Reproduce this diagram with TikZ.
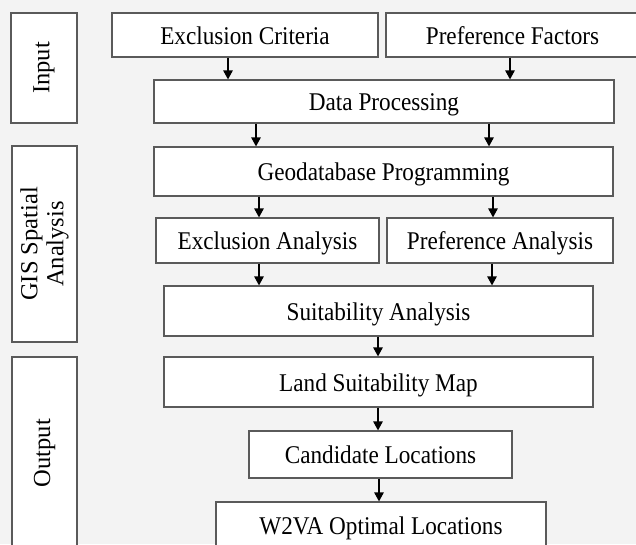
\documentclass[tikz,border=0pt]{standalone}
\usepackage{fontspec}
\setmainfont{Liberation Serif}
\newfontfamily\boxfont{Liberation Serif}[FakeStretch=0.91]
\usetikzlibrary{arrows.meta}
\definecolor{bgcol}{HTML}{F3F3F3}
\definecolor{edgecol}{HTML}{5A5A5A}
\tikzset{
  stage/.style={draw=edgecol, line width=1.2pt, fill=white, inner sep=0pt,
    text height=18pt, text depth=0pt,
    font=\boxfont\fontsize{25.5}{27}\selectfont, text=black},
  phase/.style={draw=edgecol, line width=1.2pt, fill=white, inner sep=0pt,
    rotate=90, align=center, font=\fontsize{24.5}{26}\selectfont, text=black},
  flow/.style={draw=black, line width=1.2pt, -{Triangle[length=9pt,width=9.5pt]}}
}
\begin{document}
\begin{tikzpicture}[x=1pt,y=-1pt]
\useasboundingbox (0,0) rectangle (636,544);
\clip (0,0) rectangle (636,544);
\fill[bgcol] (0,0) rectangle (636,544);

% phase labels on the left
\node[phase, minimum width=110pt, minimum height=66pt] (pin) at (44,68) {Input};
\node[phase, minimum width=196pt, minimum height=65pt] (pgis) at (44.5,244) {GIS Spatial\\Analysis};
\node[phase, minimum width=192pt, minimum height=65pt] (pout) at (44.5,453) {Output};

% process boxes
\node[stage, minimum width=266pt, minimum height=44pt] (ec) at (245,35) {Exclusion Criteria};
\node[stage, minimum width=253pt, minimum height=44pt] (pf) at (512.5,35) {Preference Factors};
\node[stage, minimum width=460pt, minimum height=43pt] (dp) at (384,101.5) {Data Processing};
\node[stage, minimum width=459pt, minimum height=49pt] (gp) at (383.5,171.5) {Geodatabase Programming};
\node[stage, minimum width=223pt, minimum height=45pt] (ea) at (267.5,240.5) {Exclusion Analysis};
\node[stage, minimum width=226pt, minimum height=45pt] (pa) at (500,240.5) {Preference Analysis};
\node[stage, minimum width=429pt, minimum height=50pt] (sa) at (378.5,311) {Suitability Analysis};
\node[stage, minimum width=429pt, minimum height=50pt] (lsm) at (378.5,382) {Land Suitability Map};
\node[stage, minimum width=263pt, minimum height=47pt] (cl) at (380.5,454.5) {Candidate Locations};
\node[stage, minimum width=330pt, minimum height=47pt] (ol) at (381,525.5) {W2VA Optimal Locations};

% connectors
\draw[flow] (ec.south -| 228,0) -- (dp.north -| 228,0);
\draw[flow] (pf.south -| 510,0) -- (dp.north -| 510,0);
\draw[flow] (dp.south -| 256,0) -- (gp.north -| 256,0);
\draw[flow] (dp.south -| 489,0) -- (gp.north -| 489,0);
\draw[flow] (gp.south -| 259,0) -- (ea.north -| 259,0);
\draw[flow] (gp.south -| 493,0) -- (pa.north -| 493,0);
\draw[flow] (ea.south -| 259,0) -- (sa.north -| 259,0);
\draw[flow] (pa.south -| 492,0) -- (sa.north -| 492,0);
\draw[flow] (sa.south -| 378,0) -- (lsm.north -| 378,0);
\draw[flow] (lsm.south -| 378,0) -- (cl.north -| 378,0);
\draw[flow] (cl.south -| 379,0) -- (ol.north -| 379,0);
\end{tikzpicture}
\end{document}
